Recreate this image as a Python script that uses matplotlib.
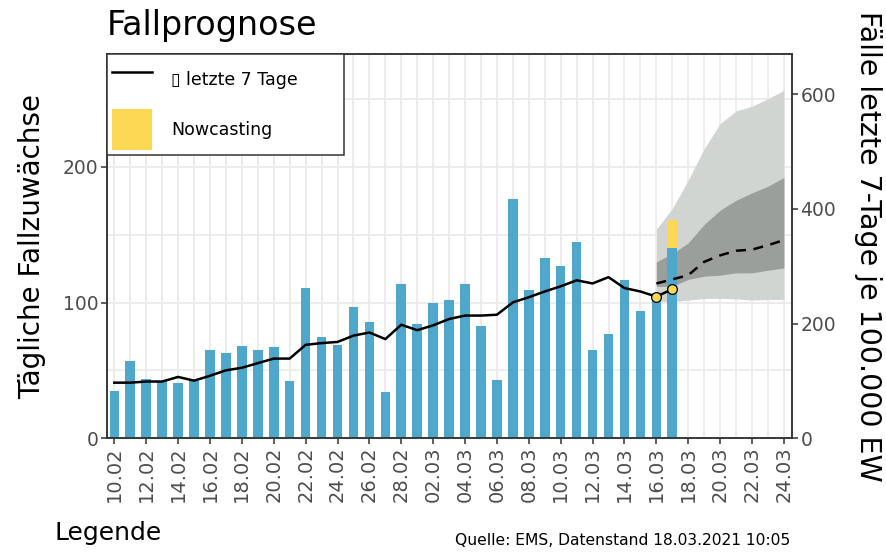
import matplotlib
matplotlib.use("Agg")
import matplotlib.pyplot as plt
import matplotlib.dates as mdates
from matplotlib.lines import Line2D
from matplotlib.patches import Patch
import numpy as np
import pandas as pd

# Tageswerte 10.02. - 17.03.2021
tage = pd.date_range("2021-02-10", "2021-03-17")
faelle = [35, 57, 44, 42, 41, 42, 65, 63, 68, 65, 67, 42, 111, 75, 69, 97, 86, 34,
          114, 84, 100, 102, 114, 83, 43, 176, 109, 133, 127, 145, 65, 77, 117, 94, 107, 140]
inzidenz = [97, 97, 99, 99, 107, 100.5, 109, 118.5, 123, 131, 139, 139, 163, 166, 168, 179,
            184.5, 173, 198, 188.5, 197, 208, 214, 214, 215.5, 237, 246, 256, 265, 275.5,
            270, 281, 262, 256, 247, 260]

# Nowcasting (Nachmeldungen)
nowcast_tage = pd.to_datetime(["2021-03-17"])
nowcast_basis = [140]
nowcast = [21]

# Punkte am Ende der Inzidenzkurve
punkt_tage = pd.to_datetime(["2021-03-16", "2021-03-17"])
punkt_inzidenz = [247, 260]

# Prognose 16.03. - 24.03.2021 (7-Tage-Inzidenz)
prog_tage = pd.date_range("2021-03-16", "2021-03-24")
prog_median = [270, 277, 284.5, 307.7, 319, 327, 329, 336.8, 345.5]
prog_inner_lo = [265, 265, 277, 282.7, 284.5, 288.5, 288.5, 293, 297]
prog_inner_hi = [307.7, 322, 340.8, 373, 397.7, 415, 428, 439.5, 454.6]
prog_outer_lo = [239, 238, 241, 243.8, 244, 243, 241, 242, 242]
prog_outer_hi = [364.6, 400.7, 450, 505, 548.8, 570.7, 579, 592, 606.8]

tick_tage = pd.date_range("2021-02-10", "2021-03-24", freq="2D")
tick_labels = [d.strftime("%d.%m") for d in tick_tage]

skala = 2.366      # Inzidenz -> linke Achse
ymax = 283

blau = "#4FA8CC"
gelb = "#FDD854"
grau_hell = "#D0D5D2"
grau_dunkel = "#9B9F9C"
achse = "#333333"
tick_col = "#4D4D4D"

x = mdates.date2num(tage)
xn = mdates.date2num(nowcast_tage)
xp = mdates.date2num(prog_tage)
xpt = mdates.date2num(punkt_tage)
xt = mdates.date2num(tick_tage)

fig = plt.figure(figsize=(8.87, 5.56), dpi=100)
ax = fig.add_axes([107 / 887, 1 - 438.3 / 556, 685 / 887, 384 / 556])

ax.fill_between(xp, np.array(prog_outer_lo) / skala, np.array(prog_outer_hi) / skala,
                color=grau_hell, lw=0, zorder=1)
ax.fill_between(xp, np.array(prog_inner_lo) / skala, np.array(prog_inner_hi) / skala,
                color=grau_dunkel, lw=0, zorder=1.1)

ax.bar(x, faelle, width=0.6, color=blau, zorder=2)
ax.bar(xn, nowcast, bottom=nowcast_basis, width=0.6, color=gelb, zorder=2)

ax.plot(x, np.array(inzidenz) / skala, color="black", lw=1.8, zorder=3)
ax.plot(xp, np.array(prog_median) / skala, color="black", lw=1.8, ls=(0, (4, 3)), zorder=3)
ax.plot(xpt, np.array(punkt_inzidenz) / skala, "o", color=gelb, mec="black", mew=0.9,
        ms=7, zorder=4)

ax.set_xlim(x[0] - 0.46, xt[-1] + 0.51)
ax.set_ylim(0, ymax)
ax.set_xticks(xt)
ax.set_xticks(np.arange(x[0] + 1, xt[-1], 2), minor=True)
ax.set_xticklabels(tick_labels, rotation=90)
ax.set_yticks([0, 100, 200])
ax.set_yticks([50, 150, 250], minor=True)
ax.grid(which="both", color="#EBEBEB", lw=1.3, zorder=0)
ax.set_axisbelow(True)

for s in ax.spines.values():
    s.set_color(achse)
    s.set_linewidth(1.1)
ax.tick_params(which="major", length=4, width=1.1, color=achse, labelcolor=tick_col,
               labelsize=14, pad=2)
ax.tick_params(axis="y", labelsize=13.5)
ax.tick_params(which="minor", length=0)

ax.set_ylabel("Tägliche Fallzuwächse", fontsize=20, va="center")
ax.yaxis.set_label_coords(-0.109, 0.5)

ax2 = ax.twinx()
ax2.set_ylim(0, ymax * skala)
ax2.set_yticks([0, 200, 400, 600])
ax2.tick_params(length=4, width=1.1, color=achse, labelcolor=tick_col, labelsize=13.5, pad=2)
for s in ax2.spines.values():
    s.set_color(achse)
    s.set_linewidth(1.1)
ax2.set_ylabel("Fälle letzte 7-Tage je 100.000 EW", fontsize=20.5, rotation=270, va="center")
ax2.yaxis.set_label_coords(1.111, 0.5)

handles = [Line2D([], [], color="black", lw=1.8),
           Patch(facecolor=gelb, edgecolor="none")]
leg = ax2.legend(handles, ["\u25af letzte 7 Tage", "Nowcasting"], loc="upper left",
                 bbox_to_anchor=(0, 1, 237 / 685, 0), mode="expand", borderaxespad=0,
                 fontsize=12.5, handlelength=2.3, handleheight=3.2, handletextpad=1.1,
                 labelspacing=0.55, borderpad=0.3, fancybox=False, framealpha=1,
                 edgecolor=achse)
leg.get_frame().set_linewidth(1.1)

fig.text(107 / 887, 1 - 35 / 556, "Fallprognose", fontsize=24, va="baseline")
fig.text(55 / 887, 1 - 540 / 556, "Legende", fontsize=18, va="baseline")
fig.text(790 / 887, 1 - 545 / 556, "Quelle: EMS, Datenstand 18.03.2021 10:05",
         fontsize=11.2, ha="right", va="baseline")

fig.savefig("out.png", dpi=100)
